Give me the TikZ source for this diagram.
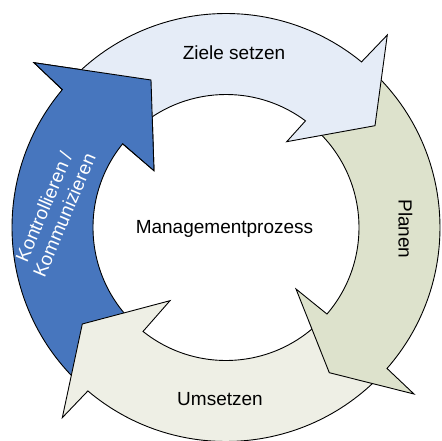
\documentclass[tikz,border=0pt]{standalone}
\usepackage{fontspec}
\setmainfont{Liberation Sans}
\definecolor{zcol}{HTML}{E5ECF7}
\definecolor{pcol}{HTML}{DDE2CC}
\definecolor{ucol}{HTML}{EEEFE5}
\definecolor{kcol}{HTML}{4776BE}
\begin{document}
\begin{tikzpicture}[x=1pt,y=1pt,
  arrowshape/.style={draw=black, line width=0.9pt},
  lbl/.style={inner sep=0pt, font=\fontsize{19}{22}\selectfont}]
\useasboundingbox (-226,-213.5) rectangle (216,227.5);
% Kontrollieren / Kommunizieren
\draw[arrowshape, fill=kcol] (-133:133) -- (-133:214)
  arc[start angle=-133, end angle=-220.1, radius=214]
  -- (-192,164.8) -- (-75,147.5) -- (-72,56.8) -- (-219:133)
  arc[start angle=-219, end angle=-133, radius=133] -- cycle;
% Umsetzen
\draw[arrowshape, fill=ucol] (-43.5:133) -- (-43.5:214)
  arc[start angle=-43.5, end angle=-130.2, radius=214]
  -- (-163.7,-190.2) -- (-143.7,-96.5) -- (-56,-73.2) -- (-128.6:133)
  arc[start angle=-128.6, end angle=-43.5, radius=133] -- cycle;
% Planen
\draw[arrowshape, fill=pcol] (48:133) -- (48:214)
  arc[start angle=48, end angle=-41.2, radius=214]
  -- (188,-166.5) -- (103.3,-145.2) -- (70,-61.5) -- (-40.6:133)
  arc[start angle=-40.6, end angle=48, radius=133] -- cycle;
% Ziele setzen
\draw[arrowshape, fill=zcol] (137:133) -- (137:214)
  arc[start angle=137, end angle=50.7, radius=214]
  -- (161.3,192.5) -- (149,101.8) -- (60.7,85.8) -- (53.3:133)
  arc[start angle=53.3, end angle=137, radius=133] -- cycle;
% head of Kontrollieren on top of the tail of Ziele setzen
\fill[kcol] (-192,164.8) -- (-75,147.5) -- (-72,56.8) -- cycle;
\draw[line width=0.9pt] (-220.1:214) -- (-192,164.8) -- (-75,147.5) -- (-72,56.8) -- (-219:133);
% labels
\node[lbl, anchor=base] (ziele) at (8,167.5) {Ziele setzen};
\node[lbl, anchor=base] (mp) at (-1.5,-6) {Managementprozess};
\node[lbl, anchor=base, rotate=-90] (planen) at (172.5,-1.5) {Planen};
\node[lbl, anchor=base] (ums) at (-6,-178.5) {Umsetzen};
\node[lbl, text=white, align=center, rotate=67] (kk) at (-172,16.5) {Kontrollieren /\\Kommunizieren};
\end{tikzpicture}
\end{document}
